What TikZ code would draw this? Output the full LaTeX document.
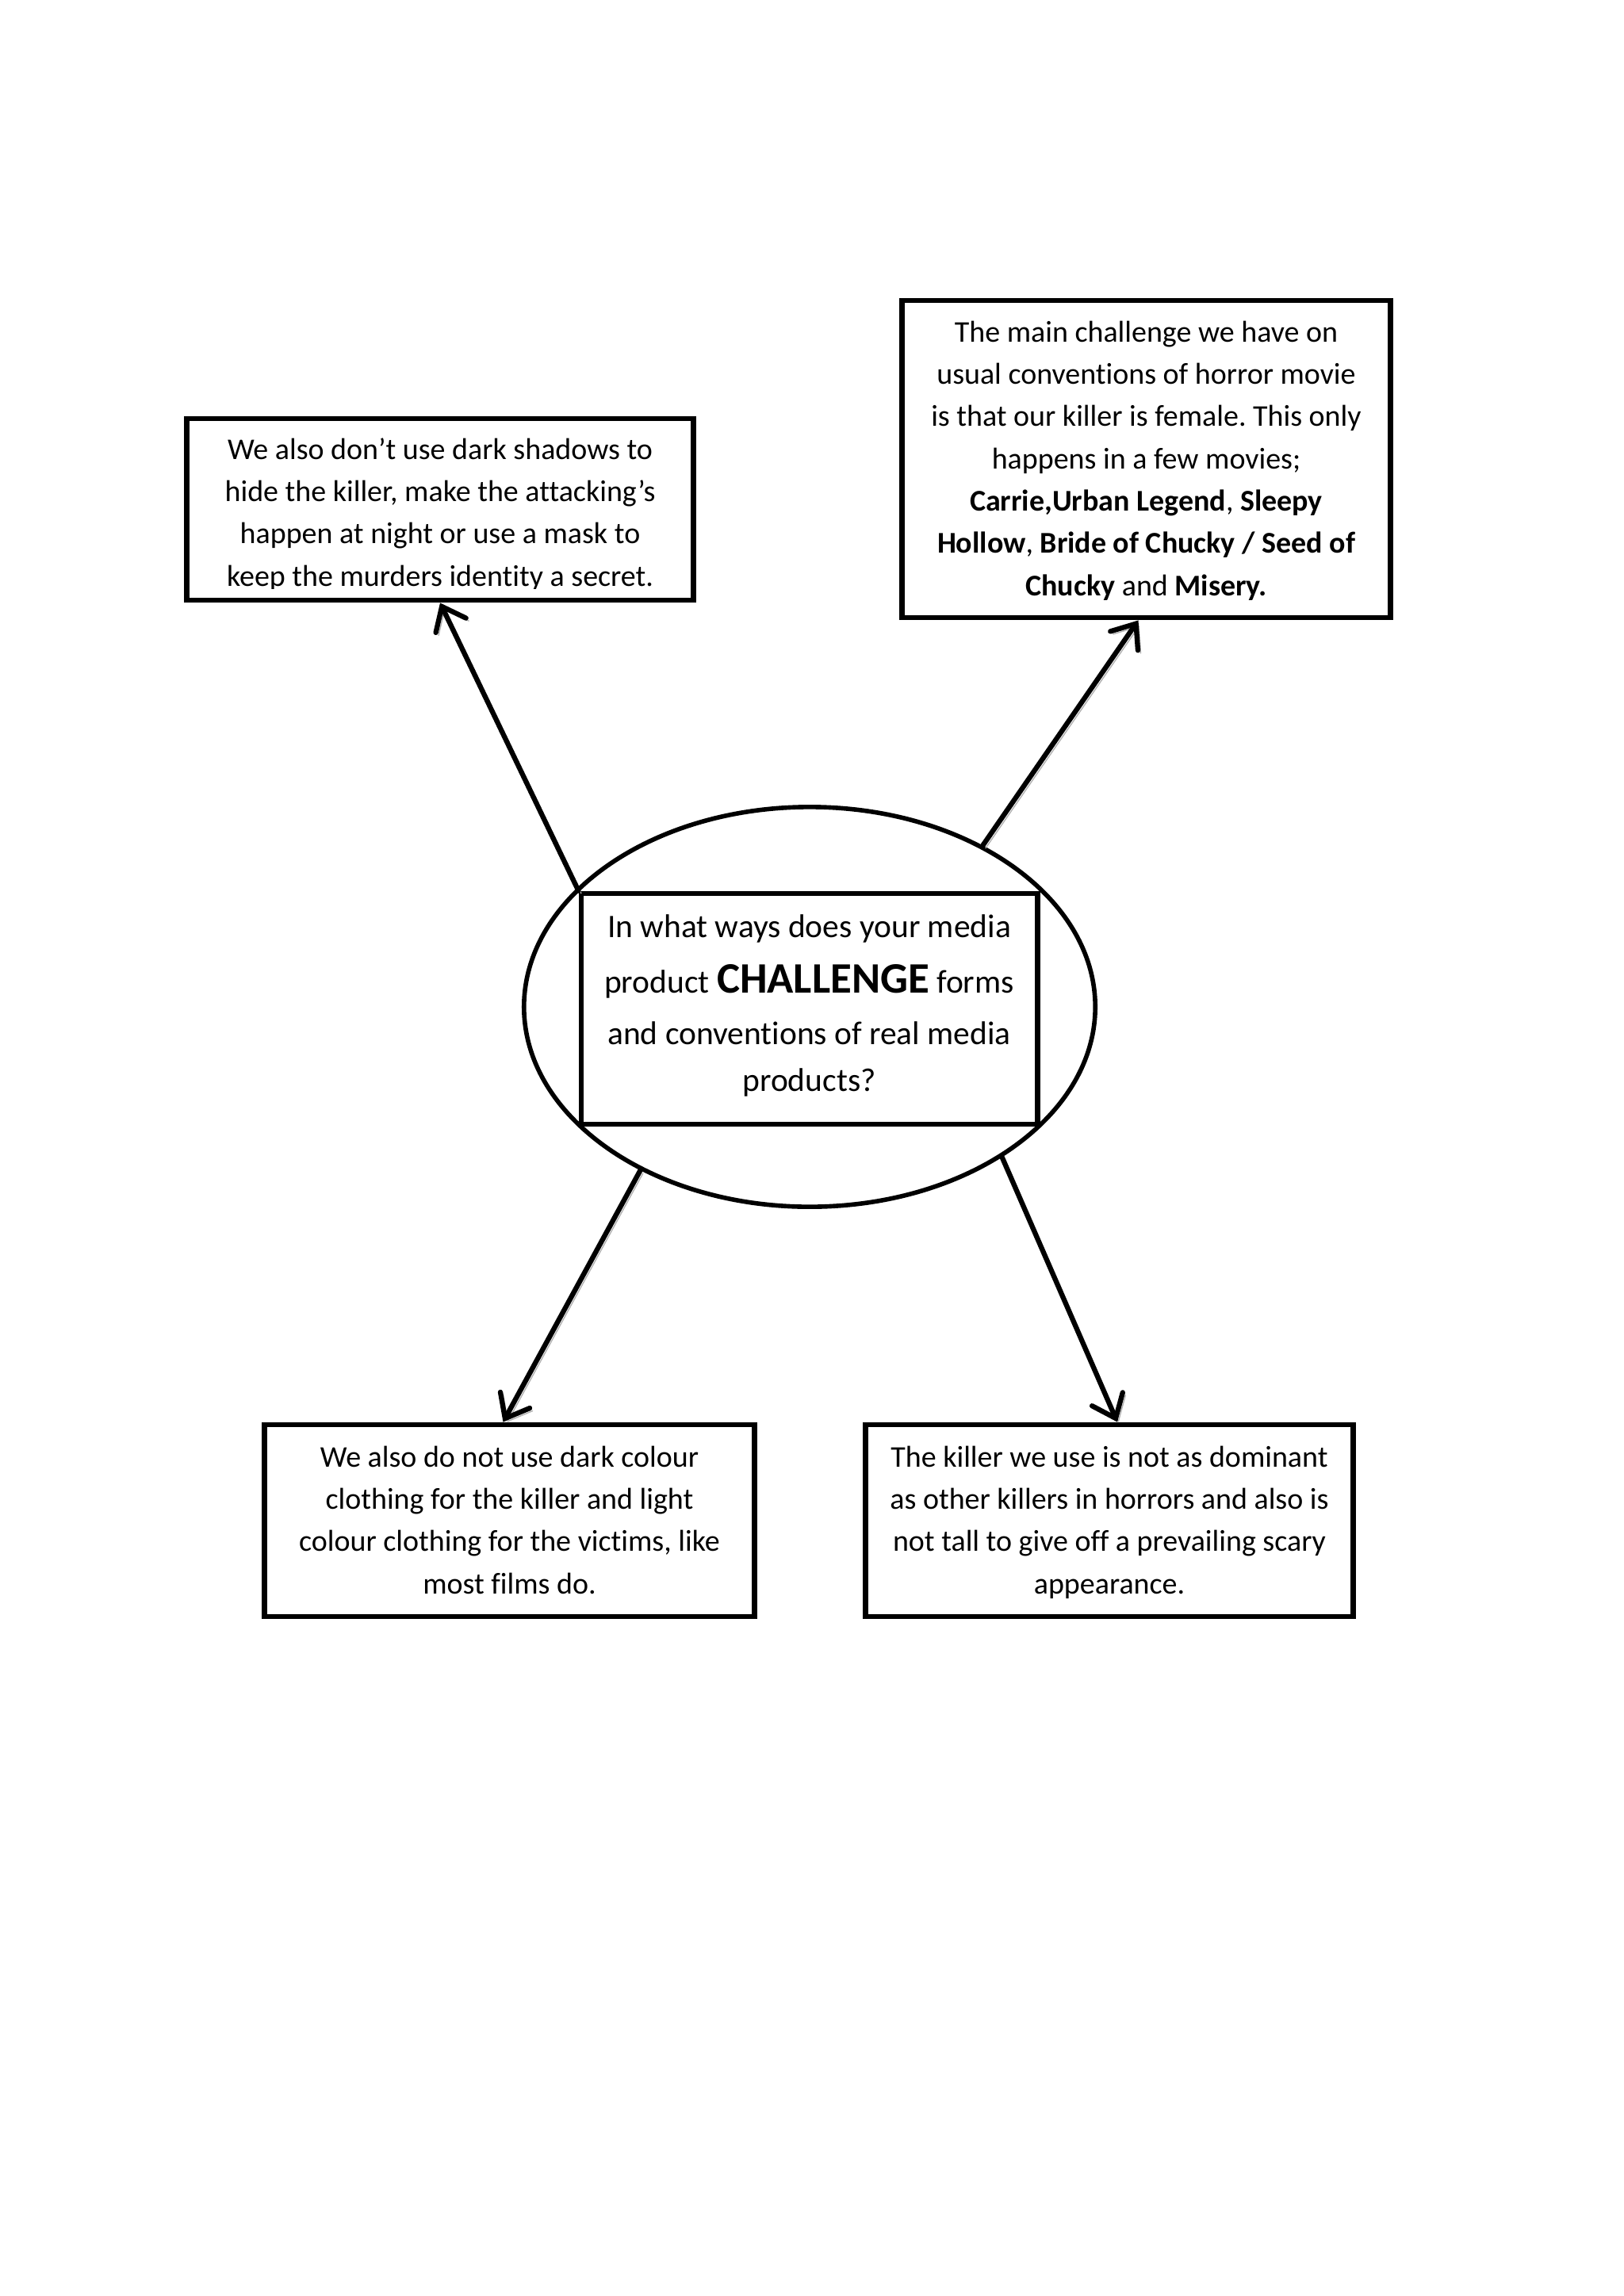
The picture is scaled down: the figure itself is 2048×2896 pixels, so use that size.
\documentclass[tikz,border=0pt]{standalone}
\usepackage{fontspec}
\setmainfont{Carlito}[Ligatures=NoCommon]
\usetikzlibrary{arrows.meta, shapes.geometric}

\newcommand{\boxfont}{\fontsize{10.8}{15.15}\selectfont}
\newcommand{\askfont}{\fontsize{11.8}{16.8}\selectfont}
\frenchspacing

\begin{document}
\begin{tikzpicture}[x=0.01cm, y=-0.01cm,
  box/.style={draw, line width=1.9pt, inner sep=0pt},
  txt/.style={inner sep=0pt, align=center, anchor=north, font=\boxfont},
  link/.style={line width=1.8pt, line cap=round,
               -{Straight Barb[length=7.5pt, width=12pt, line cap=round]},
               preaction={draw=black!30, transform canvas={shift={(0.035cm,-0.035cm)}}}},
]
\fill[white] (0,0) rectangle (2048,2896);
\useasboundingbox (0,0) rectangle (2048,2896);

% Centre question
\node[ellipse, draw, line width=1.6pt, minimum width=7.2cm, minimum height=5.04cm] (ell) at (1021,1270) {};
\node[box, minimum width=5.75cm, minimum height=2.91cm] (cq) at (1020.5,1272.5) {};
\node[txt, font=\askfont] (cqtxt) at (1020.5,1140.7)
{\strut In what ways does your media\\[3pt]
product {\fontsize{15.6}{17}\selectfont\bfseries CHALLENGE} forms\\[1.7pt]
and conventions of real media\\
products?};

% Boxes
\node[box, minimum width=6.38cm, minimum height=2.29cm] (lbox) at (555,642.5) {};
\node[box, minimum width=6.15cm, minimum height=4cm] (rbox) at (1445.5,579) {};
\node[box, minimum width=6.17cm, minimum height=2.42cm] (blbox) at (642.5,1918) {};
\node[box, minimum width=6.14cm, minimum height=2.42cm] (brbox) at (1399,1918) {};

\begin{scope}
\clip (lbox.north west) rectangle ([yshift=0.18cm]lbox.south east);
\node[txt] (ltxt) at (555,541.4)
{\strut We also don’t use dark shadows to\\
hide the killer, make the attacking’s\\
happen at night or use a mask to\\
keep the murders identity a secret.};
\end{scope}

\node[txt] (rtxt) at (1445.5,393.4)
{\strut The main challenge we have on\\
usual conventions of horror movie\\
is that our killer is female. This only\\
happens in a few movies;\\
\textbf{Carrie,Urban Legend}, \textbf{Sleepy}\\
\textbf{Hollow}, \textbf{Bride of Chucky / Seed of}\\
\textbf{Chucky} and \textbf{Misery.}};

\node[txt] (bltxt) at (642.5,1812.4)
{\strut We also do not use dark colour\\
clothing for the killer and light\\
colour clothing for the victims, like\\
most films do.};

\node[txt] (brtxt) at (1399,1812.4)
{\strut The killer we use is not as dominant\\
as other killers in horrors and also is\\
not tall to give off a prevailing scary\\
appearance.};

% Arrows
\draw[link] (cq.north west) -- (lbox.south);
\draw[link] (ell.43.5) -- ([xshift=-0.1cm]rbox.south);
\draw[link] (ell.224.5) -- ([xshift=-0.08cm]blbox.north);
\draw[link] (ell.-38.2) -- ([xshift=0.1cm]brbox.north);
\end{tikzpicture}
\end{document}
